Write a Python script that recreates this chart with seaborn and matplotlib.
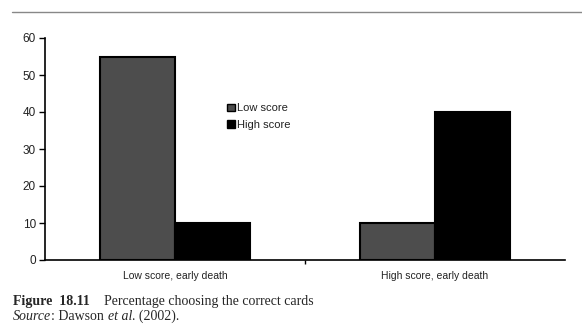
import matplotlib
matplotlib.use("Agg")
import matplotlib.pyplot as plt
import seaborn as sns
import pandas as pd
from matplotlib.lines import Line2D

categories = ["Low score, early death", "High score, early death"]
low_score = [55, 10]
high_score = [10, 40]
series_names = ["Low score", "High score"]
yticks = [0, 10, 20, 30, 40, 50, 60]
caption_bold = "Figure  18.11"
caption_text = "Percentage choosing the correct cards"

df = pd.DataFrame({
    "category": categories * 2,
    "value": low_score + high_score,
    "series": [series_names[0]] * 2 + [series_names[1]] * 2,
})

sns.set_style("white")
plt.rcParams["font.family"] = ["Liberation Sans", "DejaVu Sans"]

W, H, DPI = 582, 332, 100
fig = plt.figure(figsize=(W / DPI, H / DPI), dpi=DPI)
ax = fig.add_axes([45 / W, 1 - 260 / H, 520 / W, 222 / H])

sns.barplot(data=df, x="category", y="value", hue="series", ax=ax,
            palette={"Low score": "#4d4d4d", "High score": "#000000"},
            width=0.577, edgecolor="black", linewidth=1.5, saturation=1,
            errorbar=None)

ax.set_xlim(-0.5, 1.5)
ax.set_ylim(0, 60)
ax.set_yticks(yticks)
ax.set_xlabel("")
ax.set_ylabel("")
for s in ["top", "right"]:
    ax.spines[s].set_visible(False)
for s in ["left", "bottom"]:
    ax.spines[s].set_color("black")
    ax.spines[s].set_linewidth(1.2)
ax.tick_params(axis="y", direction="out", length=4, width=1, color="black",
               labelsize=8.5, pad=2.5, left=True, labelcolor="#222222")
ax.tick_params(axis="x", which="major", length=0, labelsize=7.5, pad=8,
               labelcolor="#222222")
ax.set_xticks([0.5], minor=True)
ax.tick_params(axis="x", which="minor", direction="out", length=3, width=1,
               color="black", bottom=True)

h1 = plt.Rectangle((0, 0), 1, 1, facecolor="#4d4d4d", edgecolor="black", linewidth=1)
h2 = plt.Rectangle((0, 0), 1, 1, facecolor="#000000", edgecolor="black", linewidth=1)
leg = ax.legend([h1, h2], series_names, loc="center left",
                bbox_to_anchor=(0.34, 0.645), frameon=False, fontsize=8,
                handlelength=0.7, handleheight=0.7, handletextpad=0.2,
                labelspacing=0.6, borderpad=0)
for t in leg.get_texts():
    t.set_color("#222222")

# top rule
fig.add_artist(Line2D([12 / W, 1.0], [1 - 12 / H, 1 - 12 / H],
                      transform=fig.transFigure, color="#888888", linewidth=1))

# caption
fig.canvas.draw()
renderer = fig.canvas.get_renderer()

def chain(pieces, x_px, y_px):
    x = x_px
    for txt, kw in pieces:
        t = fig.text(x / W, 1 - y_px / H, txt, family=["Liberation Serif", "DejaVu Serif"],
                     fontsize=10, va="baseline", ha="left", **kw)
        bb = t.get_window_extent(renderer)
        x += bb.width

fig.text(13 / W, 1 - 305 / H, caption_bold, family=["Liberation Serif"],
         fontsize=10, weight="bold", va="baseline")
fig.text(104 / W, 1 - 305 / H, caption_text, family=["Liberation Serif"],
         fontsize=10, va="baseline")
chain([("Source", {"style": "italic"}), (": Dawson ", {}),
       ("et al", {"style": "italic"}), (". (2002).", {})], 13, 320)

fig.savefig("out.png", dpi=DPI)
